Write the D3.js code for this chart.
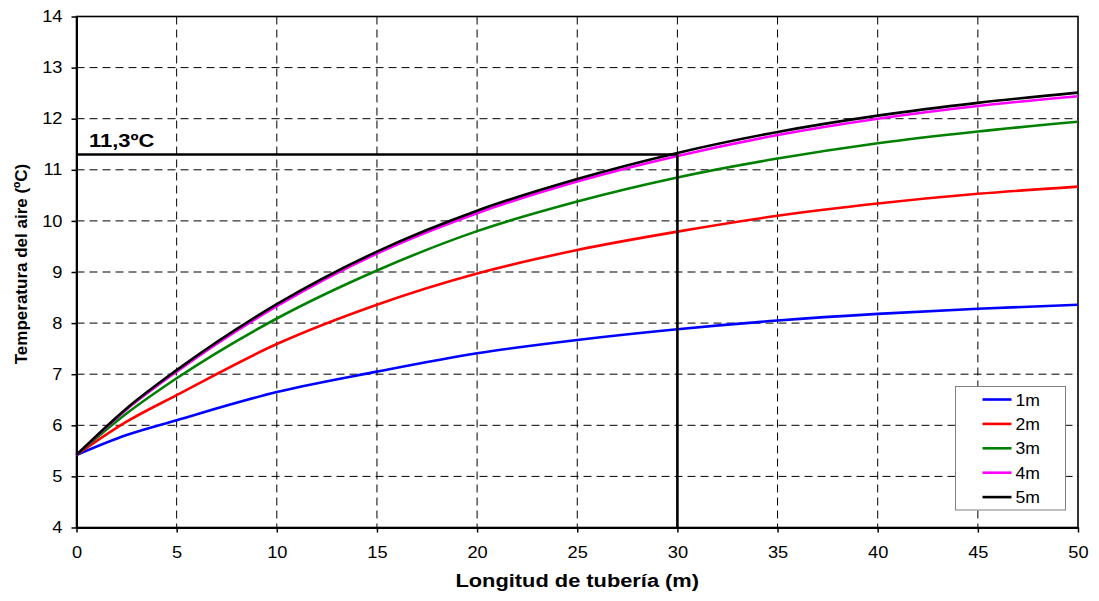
<!DOCTYPE html>
<html>
<head>
<meta charset="utf-8">
<script src="https://cdn.jsdelivr.net/npm/d3@7"></script>
<style>
  body { margin: 0; background: #fff; }
  svg { display: block; font-family: "Liberation Sans", Arial, sans-serif; }
</style>
</head>
<body>
<div id="chart"></div>
<script>
// Data
//=================================
var lengths = [0, 2.5, 5, 10, 15, 20, 25, 30, 35, 40, 45, 50];
var seriesNames = ["1m", "2m", "3m", "4m", "5m"];
var seriesColors = ["#0000ff", "#ff0000", "#008000", "#ff00ff", "#000000"];
var temp1m = [5.42, 5.81, 6.10, 6.65, 7.05, 7.41, 7.67, 7.88, 8.05, 8.18, 8.28, 8.36];
var temp2m = [5.42, 6.07, 6.59, 7.59, 8.36, 8.97, 9.43, 9.79, 10.10, 10.34, 10.53, 10.67];
var temp3m = [5.42, 6.23, 6.92, 8.09, 9.03, 9.80, 10.38, 10.85, 11.22, 11.52, 11.75, 11.94];
var temp4m = [5.42, 6.31, 7.05, 8.33, 9.36, 10.15, 10.77, 11.27, 11.68, 12.00, 12.25, 12.44];
var temp5m = [5.42, 6.33, 7.08, 8.37, 9.40, 10.20, 10.82, 11.33, 11.74, 12.06, 12.31, 12.51];
var allSeries = [temp1m, temp2m, temp3m, temp4m, temp5m];
var xTicks = [0, 5, 10, 15, 20, 25, 30, 35, 40, 45, 50];
var yTicks = [4, 5, 6, 7, 8, 9, 10, 11, 12, 13, 14];
var markLength = 30;
var markTemp = 11.3;
var markLabel = "11,3ºC";

// Set up the chart
//=================================
var svgWidth = 1099;
var svgHeight = 601;
var margin = { top: 16.5, right: 21, bottom: 73.5, left: 76.5 };
var width = svgWidth - margin.left - margin.right;
var height = svgHeight - margin.top - margin.bottom;

// the reference text is a bit wider than Liberation Sans
var stretch = 1.18;

var svg = d3.select("#chart")
  .append("svg")
  .attr("width", svgWidth)
  .attr("height", svgHeight);

var chartGroup = svg.append("g")
  .attr("transform", `translate(${margin.left}, ${margin.top})`);

var xScale = d3.scaleLinear().domain([0, 50]).range([0, width]);
var yScale = d3.scaleLinear().domain([4, 14]).range([height, 0]);

// dashed grid
chartGroup.append("g")
  .selectAll("line")
  .data(xTicks.slice(1, -1))
  .enter()
  .append("line")
  .attr("x1", d => xScale(d)).attr("x2", d => xScale(d))
  .attr("y1", 0).attr("y2", height)
  .attr("stroke", "#000").attr("stroke-width", 1)
  .attr("stroke-dasharray", "8,5");

chartGroup.append("g")
  .selectAll("line")
  .data(yTicks.slice(1, -1))
  .enter()
  .append("line")
  .attr("x1", 0).attr("x2", width)
  .attr("y1", d => yScale(d)).attr("y2", d => yScale(d))
  .attr("stroke", "#000").attr("stroke-width", 1)
  .attr("stroke-dasharray", "8,5");

// frame
chartGroup.append("rect")
  .attr("width", width).attr("height", height)
  .attr("fill", "none").attr("stroke", "#000").attr("stroke-width", 1.6);

// axes
var bottomAxis = d3.axisBottom(xScale).tickValues(xTicks).tickSize(5).tickSizeOuter(0).tickPadding(14);
var leftAxis = d3.axisLeft(yScale).tickValues(yTicks).tickSize(5).tickSizeOuter(0).tickPadding(9);

var xAxis = chartGroup.append("g")
  .attr("transform", `translate(0, ${height})`)
  .call(bottomAxis);
var yAxis = chartGroup.append("g").call(leftAxis);

[xAxis, yAxis].forEach(function(ax) {
  ax.select(".domain").attr("stroke-width", 2);
  ax.selectAll(".tick line").attr("stroke-width", 1.5);
  ax.selectAll("text")
    .attr("font-family", "'Liberation Sans', Arial, sans-serif")
    .attr("font-size", "16px")
    .attr("fill", "#000")
    .attr("transform", "scale(1.14,1)");
});
yAxis.selectAll("text").attr("x", -14 / 1.14);

// series lines
var line = d3.line()
  .x((d, i) => xScale(lengths[i]))
  .y(d => yScale(d))
  .curve(d3.curveMonotoneX);

chartGroup.selectAll(".series")
  .data(allSeries)
  .enter()
  .append("path")
  .attr("class", "series")
  .attr("d", d => line(d))
  .attr("fill", "none")
  .attr("stroke", (d, i) => seriesColors[i])
  .attr("stroke-width", 2.6);

// 11,3ºC marker lines
chartGroup.append("line")
  .attr("x1", xScale(0)).attr("x2", xScale(markLength))
  .attr("y1", yScale(markTemp)).attr("y2", yScale(markTemp))
  .attr("stroke", "#000").attr("stroke-width", 2.6);
chartGroup.append("line")
  .attr("x1", xScale(markLength)).attr("x2", xScale(markLength))
  .attr("y1", yScale(markTemp)).attr("y2", height)
  .attr("stroke", "#000").attr("stroke-width", 2.6);

chartGroup.append("text")
  .attr("transform", `translate(12.5, ${yScale(markTemp) - 7}) scale(1.22,1)`)
  .attr("font-size", "18px")
  .attr("font-weight", "bold")
  .text(markLabel);

// legend
var legend = svg.append("g")
  .attr("transform", "translate(955.5, 386.5)");
legend.append("rect")
  .attr("width", 110).attr("height", 123.5)
  .attr("fill", "#fff").attr("stroke", "#808080").attr("stroke-width", 1);

var legendRows = legend.selectAll(".row")
  .data(seriesNames)
  .enter()
  .append("g")
  .attr("transform", (d, i) => `translate(0, ${13 + i * 24.4})`);
legendRows.append("line")
  .attr("x1", 27).attr("x2", 56)
  .attr("y1", 0).attr("y2", 0)
  .attr("stroke", (d, i) => seriesColors[i])
  .attr("stroke-width", 2.6);
legendRows.append("text")
  .attr("transform", "translate(60, 6) scale(1.1,1)")
  .attr("font-size", "16px")
  .text(d => d);

// axis titles
svg.append("text")
  .attr("transform", `translate(${margin.left + width / 2}, 587) scale(${stretch},1)`)
  .attr("text-anchor", "middle")
  .attr("font-size", "18.5px")
  .attr("font-weight", "bold")
  .text("Longitud de tubería (m)");

svg.append("text")
  .attr("transform", "translate(27, 264) rotate(-90)")
  .attr("text-anchor", "middle")
  .attr("font-size", "17px")
  .attr("font-weight", "bold")
  .text("Temperatura del aire (ºC)");
</script>
</body>
</html>
